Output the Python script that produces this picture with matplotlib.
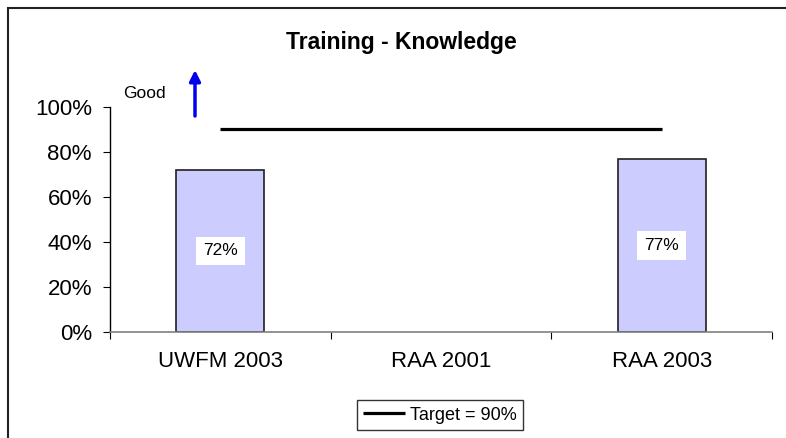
import numpy as np
import matplotlib.pyplot as plt
from matplotlib.patches import Rectangle

plt.rcParams['font.family'] = ['Liberation Sans', 'DejaVu Sans']

# dati
categories = ['UWFM 2003', 'RAA 2001', 'RAA 2003']
scores = [0.72, np.nan, 0.77]   # RAA 2001 senza dato
target = 0.90
y_ticks = [0, 0.2, 0.4, 0.6, 0.8, 1.0]

bar_color = '#CCCCFF'

fig = plt.figure(figsize=(7.86, 4.38), dpi=100)

# cornice esterna (tagliata a destra e in basso come nell'originale)
fig.patches.append(Rectangle((8/786, -0.1), 1.0, 1 - 8/438 + 0.1,
                             transform=fig.transFigure, fill=False,
                             edgecolor='#222222', lw=1.5))

ax = fig.add_axes([110/786, 1 - 332/438, 662/786, 225/438])

x = np.arange(len(categories))
for xi, v in zip(x, scores):
    if np.isnan(v):
        continue
    ax.bar(xi, v, width=0.4, color=bar_color, edgecolor='#202020', lw=1.2)
    ax.text(xi, v / 2, f'{v:.0%}', ha='center', va='center', fontsize=12.5,
            bbox=dict(facecolor='white', edgecolor='none', pad=5))

ax.plot(x, [target] * len(x), color='black', lw=2.3, label='Target = 90%',
        solid_capstyle='butt')

ax.set_xlim(-0.5, len(categories) - 0.5)
ax.set_ylim(0, 1)
ax.set_yticks(y_ticks)
ax.set_yticklabels([f'{t:.0%}' for t in y_ticks], fontsize=16)

# tick x sui confini delle categorie, etichette al centro
ax.set_xticks(np.arange(-0.5, len(categories)), minor=False)
ax.set_xticklabels([])
ax.set_xticks(x, minor=True)
ax.set_xticklabels(categories, minor=True, fontsize=16)
ax.tick_params(axis='x', which='major', length=5, color='black')
ax.tick_params(axis='x', which='minor', length=0, pad=14)
ax.tick_params(axis='y', length=5, pad=8)

for s in ['top', 'right']:
    ax.spines[s].set_visible(False)
ax.spines['bottom'].set_color('#808080')
ax.spines['bottom'].set_linewidth(1.2)
ax.spines['left'].set_linewidth(1)

fig.text(401/786, 1 - 43/438, 'Training - Knowledge', ha='center', va='center',
         fontsize=16.5, fontweight='bold')

fig.text(144/786, 1 - 93/438, 'Good', ha='center', va='center', fontsize=12.5)
ax.annotate('', xy=(195/786, 1 - 70/438), xytext=(195/786, 1 - 116/438),
            xycoords='figure fraction', textcoords='figure fraction',
            arrowprops=dict(arrowstyle='-|>', lw=2.5, color='#0000EE',
                            mutation_scale=16, shrinkA=0, shrinkB=0))

leg = ax.legend(loc='center', bbox_to_anchor=(440/786, 1 - 415/438),
                bbox_transform=fig.transFigure, fontsize=13, frameon=True,
                fancybox=False, edgecolor='black', handlelength=2.3,
                handletextpad=0.3, borderpad=0.35)
leg.get_frame().set_linewidth(1)

fig.savefig('out.png', dpi=100)
